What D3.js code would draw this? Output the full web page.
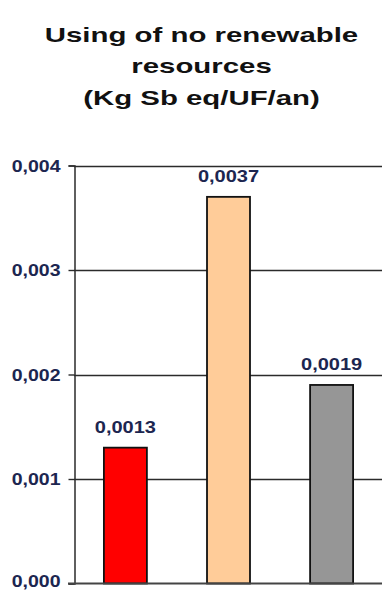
<!DOCTYPE html>
<html>
<head>
<meta charset="utf-8">
<script src="https://cdn.jsdelivr.net/npm/d3@7"></script>
<style>
  html, body { margin: 0; padding: 0; background: #fff; }
  svg { display: block; }
  text { font-family: "Liberation Sans", Arial, sans-serif; font-weight: bold; }
</style>
</head>
<body>
<div id="chart"></div>
<script>
// Abiotic depletion per functional unit and year, three scenarios
const categories = ["Scenario 1", "Scenario 2", "Scenario 3"];
const values = [0.0013, 0.0037, 0.0019];
const valueLabels = ["0,0013", "0,0037", "0,0019"];
const barColors = ["#ff0000", "#ffcc99", "#969696"];
const tickValues = [0, 0.001, 0.002, 0.003, 0.004];
const tickLabels = ["0,000", "0,001", "0,002", "0,003", "0,004"];
const titleLines = ["Using of no renewable", "resources", "(Kg Sb eq/UF/an)"];

const W = 382, H = 590;
const svg = d3.select("#chart").append("svg").attr("width", W).attr("height", H);

const y = d3.scaleLinear().domain([0, 0.004]).range([583.5, 165.5]);
const x = d3.scaleBand().domain(categories).range([74, 383])
  .paddingInner(0.583).paddingOuter(0.29);

// Text in this chart is rendered wide; stretch horizontally around its anchor
const TSX = 1.4, LSX = 1.22, VSX = 1.25;
function wideText(sel, cx, cy, sx) {
  sel.attr("transform", `translate(${cx},${cy}) scale(${sx},1)`).attr("x", 0).attr("y", 0);
}

// Title
titleLines.forEach((t, i) => {
  svg.append("text")
    .text(t)
    .attr("font-size", 21)
    .attr("fill", "#111")
    .attr("text-anchor", "middle")
    .call(wideText, 201.5, 41.5 + i * 31.7, TSX);
});

// Horizontal gridlines
svg.append("g").selectAll("line")
  .data(tickValues.filter(d => d > 0))
  .join("line")
  .attr("x1", 74).attr("x2", W)
  .attr("y1", d => Math.round(y(d)) + 0.5).attr("y2", d => Math.round(y(d)) + 0.5)
  .attr("stroke", "#2b2b2b").attr("stroke-width", 1.4);

// Y axis with its ticks
const yAxis = d3.axisLeft(y).tickValues(tickValues)
  .tickFormat((d, i) => tickLabels[i]).tickSize(6).tickPadding(8);
const ga = svg.append("g").attr("transform", "translate(74.5,0)").call(yAxis);
ga.select(".domain").attr("stroke", "#2b2b2b").attr("stroke-width", 1.5);
ga.selectAll(".tick line").attr("stroke", "#2b2b2b").attr("stroke-width", 1.4);
ga.selectAll(".tick text")
  .attr("font-size", 16)
  .attr("font-family", "'Liberation Sans', Arial, sans-serif")
  .attr("font-weight", "bold")
  .attr("fill", "#1c2650")
  .attr("text-anchor", "end")
  // the zero label sits against the bottom edge, so lift it slightly
  .attr("dy", d => d === 0 ? "0.16em" : "0.36em")
  .each(function () {
    const t = d3.select(this);
    const tx = +t.attr("x");
    t.attr("x", tx / LSX).attr("transform", `scale(${LSX},1)`);
  });

// Bars
svg.append("g").selectAll("rect")
  .data(values)
  .join("rect")
  .attr("x", (d, i) => x(categories[i]))
  .attr("width", x.bandwidth())
  .attr("y", d => y(d))
  .attr("height", d => y(0) - y(d))
  .attr("fill", (d, i) => barColors[i])
  .attr("stroke", "#111").attr("stroke-width", 1.8);

// Baseline at zero
svg.append("line")
  .attr("x1", 68).attr("x2", W)
  .attr("y1", y(0)).attr("y2", y(0))
  .attr("stroke", "#444").attr("stroke-width", 2);

// Value labels above bars
svg.append("g").selectAll("text")
  .data(values)
  .join("text")
  .text((d, i) => valueLabels[i])
  .attr("font-size", 16)
  .attr("fill", "#1c2650")
  .attr("text-anchor", "middle")
  .each(function (d, i) {
    d3.select(this).call(wideText, x(categories[i]) + x.bandwidth() / 2, y(d) - 14.5, VSX);
  });
</script>
</body>
</html>
